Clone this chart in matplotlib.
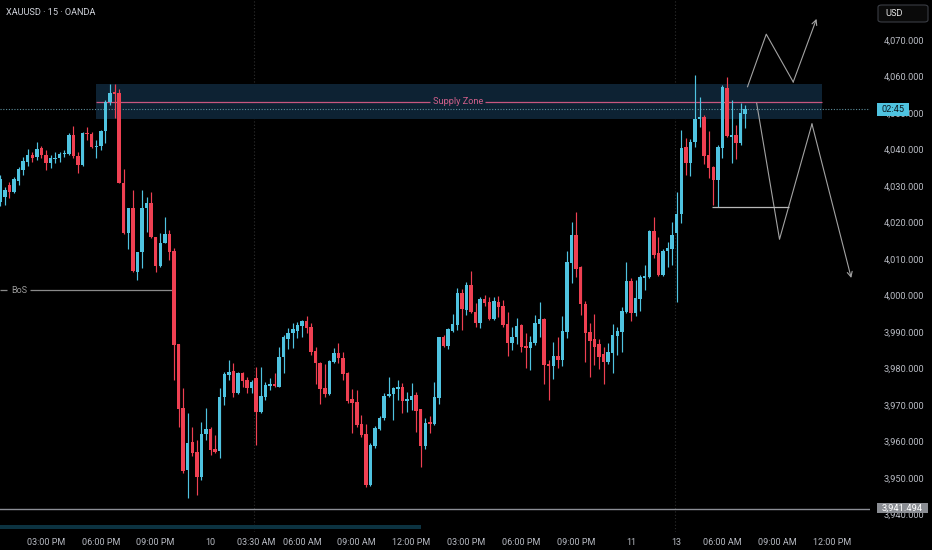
import matplotlib
matplotlib.use('Agg')
import matplotlib.pyplot as plt
from matplotlib.patches import Rectangle, FancyBboxPatch
import numpy as np

plt.rcParams['font.family'] = ['Roboto', 'DejaVu Sans']

# ---------------- data (XAUUSD 15m) ----------------
opens = [4025.5, 4027.0, 4030.3, 4028.4, 4031.4, 4034.4, 4036.6, 4038.5, 4037.9, 4040.4,
         4038.5, 4036.3, 4037.4, 4037.7, 4038.8, 4038.8, 4044.0, 4038.2, 4035.8, 4044.5,
         4044.2, 4040.7, 4041.0, 4045.1, 4053.0, 4055.7, 4055.5, 4030.8, 4017.1, 4024.0,
         4006.4, 4011.9, 4024.0, 4025.3, 4016.0, 4008.1, 4014.4, 4016.8, 4012.2, 3986.7,
         3969.2, 3952.2, 3959.9, 3957.1, 3950.3, 3962.1, 3963.4, 3957.9, 3957.4, 3972.2,
         3978.2, 3979.3, 3973.3, 3978.8, 3976.8, 3974.7, 3977.4, 3968.1, 3972.2, 3975.2,
         3975.8, 3974.9, 3983.2, 3988.1, 3989.7, 3990.3, 3991.6, 3993.0, 3991.4, 3984.8,
         3981.5, 3974.7, 3973.0, 3981.8, 3984.2, 3982.9, 3978.8, 3971.6, 3970.8, 3964.8,
         3962.1, 3948.1, 3958.8, 3963.4, 3966.4, 3972.5, 3973.0, 3974.4, 3974.9, 3971.1,
         3971.4, 3972.7, 3968.9, 3958.8, 3965.3, 3964.8, 3971.9, 3988.6, 3986.2, 3990.3,
         3991.9, 4000.7, 3996.0, 4002.9, 3995.5, 3992.5, 3999.0, 3998.2, 3993.6, 3998.2,
         3997.1, 3992.2, 3987.0, 3988.6, 3991.9, 3986.2, 3985.6, 3987.0, 3992.2, 3993.6,
         3981.2, 3980.7, 3983.4, 3982.3, 3990.0, 4008.9, 4016.6, 4007.8, 3997.7, 3990.0,
         3988.1, 3986.7, 3984.0, 3981.8, 3984.2, 3988.9, 3990.0, 3995.5, 4004.0, 3995.2,
         3999.0, 4004.8, 4005.1, 4017.7, 4011.6, 4005.6, 4012.2, 4012.7, 4017.1, 4022.3,
         4040.7, 4036.3, 4042.1, 4048.4, 4048.9, 4038.5, 4035.2, 4031.6, 4040.4, 4056.9,
         4043.4, 4044.0, 4041.8, 4049.7]
highs = [4033.0, 4029.7, 4031.1, 4032.5, 4035.2, 4037.9, 4040.1, 4039.3, 4042.1, 4041.0,
         4039.9, 4038.5, 4039.3, 4039.3, 4039.9, 4044.5, 4046.4, 4039.3, 4044.8, 4046.2,
         4044.8, 4042.6, 4045.3, 4053.6, 4058.0, 4058.0, 4056.6, 4034.7, 4024.0, 4028.9,
         4011.9, 4028.9, 4027.0, 4028.4, 4016.0, 4017.1, 4021.5, 4018.0, 4013.0, 3986.7,
         3974.7, 3967.8, 3964.0, 3960.4, 3965.3, 3969.2, 3964.0, 3961.8, 3974.7, 3979.0,
         3982.3, 3981.5, 3979.0, 3979.0, 3977.7, 3976.8, 3980.4, 3980.4, 3976.3, 3977.4,
         3978.8, 3985.9, 3989.2, 3991.1, 3992.5, 3992.7, 3993.3, 3994.4, 3992.5, 3985.9,
         3981.8, 3981.2, 3982.3, 3985.6, 3987.0, 3984.5, 3979.0, 3974.4, 3974.1, 3967.3,
         3964.8, 3959.6, 3964.2, 3967.0, 3973.3, 3977.7, 3974.9, 3976.8, 3976.0, 3973.6,
         3976.0, 3973.6, 3968.9, 3966.4, 3967.0, 3976.3, 3988.6, 3989.2, 3991.1, 3994.9,
         4002.1, 4001.8, 4003.7, 4006.7, 3997.9, 3999.6, 4000.1, 3999.6, 3999.6, 3999.9,
         3998.8, 3995.5, 3991.4, 3993.8, 3992.2, 3989.7, 3988.9, 3994.7, 3998.2, 3993.8,
         3982.3, 3987.3, 3988.6, 3994.4, 4012.2, 4020.1, 4022.9, 4008.1, 3998.5, 3992.5,
         3994.9, 3988.1, 3985.9, 3987.0, 3992.2, 3991.4, 3996.8, 4009.2, 4004.8, 4004.2,
         4005.6, 4008.4, 4018.0, 4021.5, 4016.0, 4012.7, 4014.7, 4020.1, 4028.4, 4045.3,
         4043.2, 4042.9, 4060.4, 4054.4, 4049.5, 4045.1, 4035.5, 4041.2, 4057.7, 4059.9,
         4053.6, 4046.7, 4052.7, 4052.2]
lows = [4024.5, 4024.8, 4026.7, 4028.1, 4030.3, 4033.0, 4035.5, 4036.6, 4037.1, 4037.7,
        4034.4, 4034.9, 4036.3, 4036.6, 4037.9, 4038.5, 4037.7, 4033.6, 4035.5, 4042.6,
        4040.4, 4037.7, 4039.9, 4041.8, 4052.2, 4048.6, 4030.8, 4016.8, 4012.7, 4006.4,
        4004.2, 4007.5, 4017.4, 4015.8, 4006.4, 4007.8, 4014.4, 4009.7, 3976.8, 3964.0,
        3951.4, 3944.5, 3956.0, 3945.3, 3949.5, 3960.4, 3956.3, 3956.8, 3955.5, 3970.0,
        3976.8, 3972.2, 3973.0, 3974.9, 3973.3, 3973.3, 3959.0, 3967.8, 3971.4, 3974.1,
        3974.9, 3974.9, 3978.8, 3985.3, 3985.6, 3988.4, 3988.6, 3989.7, 3983.7, 3975.8,
        3970.3, 3972.2, 3972.7, 3981.5, 3981.5, 3976.8, 3970.5, 3962.3, 3964.0, 3961.2,
        3947.5, 3947.8, 3958.2, 3963.2, 3965.9, 3972.2, 3965.9, 3971.4, 3967.8, 3968.1,
        3968.6, 3962.6, 3953.0, 3957.9, 3962.3, 3964.5, 3970.3, 3985.9, 3985.3, 3990.0,
        3990.5, 3990.5, 3994.7, 3995.2, 3991.4, 3991.1, 3997.1, 3993.3, 3993.3, 3994.1,
        3991.4, 3983.4, 3985.1, 3986.7, 3984.5, 3980.1, 3979.6, 3986.4, 3988.6, 3975.8,
        3971.4, 3977.1, 3980.1, 3980.7, 3988.4, 4003.4, 4005.1, 3994.7, 3981.8, 3977.7,
        3981.0, 3979.9, 3975.8, 3981.2, 3978.8, 3983.7, 3984.5, 3995.2, 3993.0, 3994.4,
        3995.8, 4001.5, 4004.8, 4010.3, 4005.3, 4005.3, 4007.8, 4008.4, 3998.2, 4019.9,
        4033.0, 4032.7, 4040.7, 4046.2, 4036.0, 4032.2, 4024.8, 4024.2, 4037.7, 4043.4,
        4036.3, 4037.4, 4041.2, 4045.9]
closes = [4032.0, 4028.9, 4028.4, 4031.9, 4034.7, 4036.8, 4038.5, 4037.7, 4040.1, 4038.5,
          4036.3, 4037.7, 4037.7, 4038.8, 4039.0, 4044.0, 4038.2, 4035.8, 4044.5, 4044.2,
          4040.7, 4041.0, 4045.1, 4053.0, 4055.5, 4055.2, 4030.8, 4017.1, 4024.0, 4006.7,
          4011.9, 4024.0, 4025.3, 4016.0, 4008.1, 4014.4, 4016.8, 4011.9, 3986.4, 3968.9,
          3951.9, 3959.6, 3956.8, 3950.3, 3962.1, 3963.4, 3957.7, 3957.1, 3972.2, 3978.5,
          3979.0, 3973.3, 3978.8, 3976.6, 3974.7, 3976.3, 3968.1, 3972.5, 3975.5, 3975.8,
          3975.2, 3983.2, 3988.6, 3989.7, 3990.8, 3991.9, 3993.0, 3991.1, 3984.5, 3981.5,
          3974.4, 3973.0, 3982.1, 3984.2, 3982.9, 3978.5, 3971.1, 3970.5, 3964.5, 3961.8,
          3948.1, 3959.0, 3963.7, 3966.4, 3972.5, 3973.0, 3974.7, 3974.9, 3971.1, 3971.6,
          3972.5, 3968.4, 3958.8, 3965.1, 3964.8, 3972.2, 3988.6, 3986.2, 3990.8, 3992.2,
          4000.7, 3996.3, 4002.9, 3995.5, 3992.5, 3999.0, 3997.9, 3993.6, 3998.5, 3996.8,
          3991.9, 3987.0, 3988.6, 3991.6, 3985.9, 3985.6, 3987.3, 3992.5, 3993.6, 3981.0,
          3980.7, 3983.4, 3982.3, 3990.3, 4009.2, 4016.6, 4007.3, 3997.7, 3989.7, 3987.5,
          3985.9, 3983.2, 3981.8, 3984.5, 3989.2, 3990.3, 3995.8, 4004.0, 3995.2, 3999.3,
          4005.1, 4005.3, 4017.7, 4011.1, 4005.6, 4012.2, 4013.0, 4016.6, 4022.3, 4040.4,
          4036.3, 4042.1, 4048.4, 4048.9, 4038.2, 4034.9, 4031.6, 4040.7, 4057.1, 4043.7,
          4044.0, 4041.8, 4050.0, 4051.1]

time_tick_bars = [10, 22, 34, 46, 56, 66, 78, 90, 102, 114, 126, 138, 148, 158, 170, 182]
time_tick_labels = ['03:00 PM', '06:00 PM', '09:00 PM', '10', '03:30 AM', '06:00 AM',
                    '09:00 AM', '12:00 PM', '03:00 PM', '06:00 PM', '09:00 PM', '11',
                    '13', '06:00 AM', '09:00 AM', '12:00 PM']
price_ticks = [3940, 3950, 3960, 3970, 3980, 3990, 4000, 4010, 4020, 4030, 4040, 4050, 4060, 4070]
session_breaks = [55.6, 147.6]

zone_start, zone_end = 20.9, 179.8
zone_low, zone_high = 4048.4, 4057.9
zone_mid = 4053.1
last_price = 4051.1
low_marker = 3941.494
bos_level, bos_end = 4001.5, 37.8
proj_up_x = [163.5, 167.6, 173.5, 178.6]
proj_up_y = [4057.2, 4071.6, 4058.5, 4075.8]
proj_dn_x = [165.5, 170.5, 177.6, 186.2]
proj_dn_y = [4052.7, 4015.4, 4047.0, 4004.8]
hline_level, hline_x0, hline_x1 = 4024.3, 155.7, 172.5

# ---------------- styling ----------------
UP = '#4fc3e0'
DN = '#ef4052'
TXT = '#b8bbc3'
W, H = 932, 550

fig = plt.figure(figsize=(W / 100, H / 100), dpi=100, facecolor='black')
ax = fig.add_axes([0, 18 / H, 870 / W, 532 / H])
ax.set_facecolor('black')
ax.set_xlim(-0.066, 190.3)
ax.set_ylim(3935.21, 4080.96)
for s in ax.spines.values():
    s.set_visible(False)

o = np.array(opens); h = np.array(highs); l = np.array(lows); c = np.array(closes)
idx = np.arange(len(o))
up = c >= o
cols = np.where(up, UP, DN)

# supply zone
ax.add_patch(Rectangle((zone_start, zone_low), zone_end - zone_start, zone_high - zone_low,
                       facecolor='#0d2233', edgecolor='none', zorder=0.5))
ax.hlines(zone_mid, zone_start, 94.0, color='#c8577f', lw=0.9, zorder=1)
ax.hlines(zone_mid, 106.1, zone_end, color='#c8577f', lw=0.9, zorder=1)
ax.text(100.15, zone_mid, 'Supply Zone', color='#d0608a', fontsize=6.6,
        ha='center', va='center', zorder=3)

# session separators
for b in session_breaks:
    ax.axvline(b, color='#2e2e2e', lw=0.8, ls=(0, (1, 2)), zorder=0.4)

# candles
ax.vlines(idx, l, h, colors=cols, lw=0.85, zorder=2)
body_bot = np.minimum(o, c)
body_h = np.maximum(np.abs(c - o), 0.3)
ax.bar(idx, body_h, bottom=body_bot, width=0.76, color=cols, edgecolor='none', zorder=2.1)

# last price dotted line
ax.axhline(last_price, color='#5d8e9c', lw=0.8, ls=(0, (1, 1.5)), zorder=1.5)

# BoS
ax.hlines(bos_level, -0.066, 1.5, color='#8a8a8a', lw=0.9, zorder=1)
ax.hlines(bos_level, 6.5, bos_end, color='#8a8a8a', lw=0.9, zorder=1)
ax.text(4.1, bos_level, 'BoS', color='#9a9a9a', fontsize=6.5, ha='center', va='center')

# low marker line
ax.axhline(low_marker, color='#8b8e95', lw=1.0, zorder=1)

# projection paths
pc = '#a3a3a3'
ax.plot(proj_up_x[:-1], proj_up_y[:-1], color=pc, lw=0.8, zorder=3)
ax.annotate('', xy=(proj_up_x[-1], proj_up_y[-1]), xytext=(proj_up_x[-2], proj_up_y[-2]),
            arrowprops=dict(arrowstyle='->', color=pc, lw=0.8, mutation_scale=9,
                            shrinkA=0, shrinkB=0), zorder=3)
ax.plot(proj_dn_x[:-1], proj_dn_y[:-1], color=pc, lw=0.8, zorder=3)
ax.annotate('', xy=(proj_dn_x[-1], proj_dn_y[-1]), xytext=(proj_dn_x[-2], proj_dn_y[-2]),
            arrowprops=dict(arrowstyle='->', color=pc, lw=0.8, mutation_scale=9,
                            shrinkA=0, shrinkB=0), zorder=3)
ax.hlines(hline_level, hline_x0, hline_x1, color='#b8b8b8', lw=0.9, zorder=3)

# axes ticks
ax.yaxis.tick_right()
ax.set_yticks(price_ticks)
ax.set_yticklabels([f'{p:,.3f}' for p in price_ticks])
ax.tick_params(axis='y', length=0, pad=10, labelsize=6.7, labelcolor=TXT)
ax.set_xticks(time_tick_bars)
ax.set_xticklabels(time_tick_labels)
ax.tick_params(axis='x', length=0, pad=4, labelsize=6.5, labelcolor=TXT)

def fx(px):
    return px / W

def fy(py):
    return (H - py) / H

# bottom scroll bar
fig.add_artist(Rectangle((0, fy(529)), fx(421), 4 / H, transform=fig.transFigure,
                         facecolor='#0c3341', edgecolor='none'))

# price label boxes
fig.add_artist(Rectangle((fx(876.7), fy(513.3)), fx(928.3) - fx(876.7), 10.6 / H,
                         transform=fig.transFigure, facecolor='#8a8d93', edgecolor='none', zorder=5))
fig.text(fx(902.5), fy(508.2), f'{low_marker:,.3f}', color='white', fontsize=6.7,
         ha='center', va='center', zorder=6)
fig.add_artist(Rectangle((fx(876.7), fy(115.5)), fx(909.3) - fx(876.7), 12.2 / H,
                         transform=fig.transFigure, facecolor=UP, edgecolor='none', zorder=5))
fig.text(fx(893), fy(109.4), '02:45', color='#0b1a22', fontsize=6.7,
         ha='center', va='center', zorder=6)

# USD box
fig.add_artist(FancyBboxPatch((fx(878), fy(22)), fx(928) - fx(878), 17 / H,
                              boxstyle='round,pad=0,rounding_size=0.004',
                              transform=fig.transFigure, facecolor='#0a0a0a',
                              edgecolor='#3a3d44', lw=0.8, zorder=5))
fig.text(fx(885), fy(13.5), 'USD', color='#e6e6e6', fontsize=6.7, ha='left', va='center', zorder=6)

# title
fig.text(fx(6), fy(12.5), 'XAUUSD · 15 · OANDA', color='#d1d4dc', fontsize=6.6,
         ha='left', va='center')

fig.savefig('out.png', dpi=100, facecolor='black')
